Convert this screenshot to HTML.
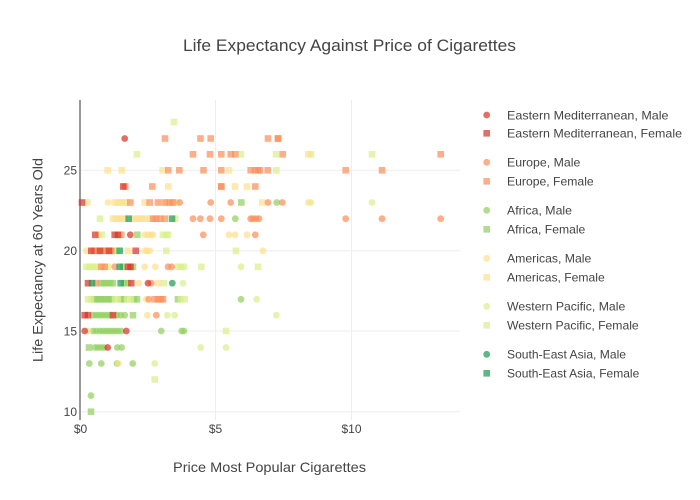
<!DOCTYPE html>
<html><head><meta charset="utf-8"><style>
html,body{margin:0;padding:0;background:#fff}
svg{display:block}
text{font-family:"Liberation Sans",sans-serif;fill:#444}
.E{fill:#d73027;fill-opacity:.7}
.U{fill:#fc8d59;fill-opacity:.7}
.M{fill:#fee08b;fill-opacity:.7}
.W{fill:#d9ef8b;fill-opacity:.7}
.A{fill:#91cf60;fill-opacity:.7}
.S{fill:#1a9850;fill-opacity:.7}
</style></head><body>
<svg width="700" height="500" viewBox="0 0 700 500" xmlns="http://www.w3.org/2000/svg">
<defs>
<rect id="q" x="-3.3" y="-3.3" width="6.6" height="6.6"/>
<circle id="o" cx="0" cy="0" r="3.4"/>
</defs>
<rect width="700" height="500" fill="#fff"/>
<!-- grid -->
<g stroke="#eee" stroke-width="1">
<line x1="80" x2="460" y1="170.3" y2="170.3"/>
<line x1="80" x2="460" y1="250.8" y2="250.8"/>
<line x1="80" x2="460" y1="331" y2="331"/>
<line x1="80" x2="460" y1="411.7" y2="411.7"/>
<line x1="215.5" x2="215.5" y1="100" y2="420"/>
<line x1="351.5" x2="351.5" y1="100" y2="420"/>
</g>
<line x1="80" x2="80" y1="100" y2="420" stroke="#999" stroke-width="2"/>

<!-- Africa -->
<g class="A">
<use href="#o" x="276.7" y="202.5"/><use href="#o" x="235.3" y="218.7"/><use href="#o" x="241" y="299.3"/>
<use href="#o" x="93" y="315.2"/><use href="#o" x="96" y="315.2"/><use href="#o" x="99" y="315.2"/><use href="#o" x="102" y="315.2"/><use href="#o" x="105" y="315.2"/><use href="#o" x="108" y="315.2"/><use href="#o" x="111" y="315.2"/><use href="#o" x="117" y="315.2"/><use href="#o" x="120.7" y="315.2"/><use href="#o" x="124.7" y="315.2"/>
<use href="#o" x="93" y="331"/><use href="#o" x="96.3" y="331"/><use href="#o" x="100" y="331"/><use href="#o" x="103" y="331"/><use href="#o" x="106" y="331"/><use href="#o" x="109" y="331"/><use href="#o" x="112" y="331"/><use href="#o" x="115" y="331"/><use href="#o" x="118" y="331"/><use href="#o" x="121.3" y="331"/><use href="#o" x="161.3" y="331"/><use href="#o" x="181.7" y="331"/><use href="#o" x="184" y="331"/>
<use href="#o" x="95" y="347.5"/><use href="#o" x="98" y="347.5"/><use href="#o" x="101" y="347.5"/><use href="#o" x="104" y="347.5"/><use href="#o" x="117.3" y="347.5"/><use href="#o" x="121.7" y="347.5"/>
<use href="#o" x="89.3" y="363.5"/><use href="#o" x="101.3" y="363.5"/><use href="#o" x="117" y="363.5"/><use href="#o" x="132.7" y="363.5"/>
<use href="#o" x="91" y="395.6"/>
<use href="#q" x="241.3" y="202.5"/><use href="#q" x="137.3" y="234.8"/><use href="#q" x="114" y="250.8"/>
<use href="#q" x="123" y="266.8"/><use href="#q" x="133" y="266.8"/>
<use href="#q" x="101.3" y="283.2"/><use href="#q" x="104" y="283.2"/><use href="#q" x="107" y="283.2"/><use href="#q" x="110" y="283.2"/><use href="#q" x="113" y="283.2"/><use href="#q" x="124" y="283.2"/><use href="#q" x="128" y="283.2"/>
<use href="#q" x="94" y="299.3"/><use href="#q" x="97" y="299.3"/><use href="#q" x="100" y="299.3"/><use href="#q" x="103" y="299.3"/><use href="#q" x="106" y="299.3"/><use href="#q" x="109" y="299.3"/><use href="#q" x="112" y="299.3"/><use href="#q" x="121" y="299.3"/><use href="#q" x="124" y="299.3"/><use href="#q" x="134" y="299.3"/><use href="#q" x="137" y="299.3"/><use href="#q" x="178" y="299.3"/>
<use href="#q" x="133" y="315.2"/><use href="#q" x="89" y="347.5"/><use href="#q" x="91" y="411.7"/>
</g>

<!-- Western Pacific -->
<g class="W">
<use href="#o" x="311" y="202.5"/><use href="#o" x="372" y="202.5"/><use href="#o" x="241" y="266.8"/><use href="#o" x="183" y="283.2"/><use href="#o" x="256.7" y="299.3"/><use href="#o" x="167.3" y="315.2"/><use href="#o" x="174.7" y="315.2"/><use href="#o" x="276.3" y="315.2"/><use href="#o" x="200.7" y="347.5"/><use href="#o" x="226" y="347.5"/><use href="#o" x="154.7" y="363.5"/>
<use href="#q" x="174" y="122"/>
<use href="#q" x="137" y="154.3"/><use href="#q" x="241" y="154.3"/><use href="#q" x="276" y="154.3"/><use href="#q" x="311" y="154.3"/><use href="#q" x="372" y="154.3"/>
<use href="#q" x="276.3" y="170.3"/><use href="#q" x="176" y="202.5"/>
<use href="#q" x="100" y="218.7"/><use href="#q" x="175.3" y="218.7"/>
<use href="#q" x="102" y="234.8"/><use href="#q" x="163" y="234.8"/><use href="#q" x="166" y="234.8"/><use href="#q" x="168" y="234.8"/>
<use href="#q" x="117" y="250.8"/><use href="#q" x="166.3" y="250.8"/><use href="#q" x="236" y="250.8"/>
<use href="#q" x="86.3" y="266.8"/><use href="#q" x="89" y="266.8"/><use href="#q" x="92" y="266.8"/><use href="#q" x="95" y="266.8"/><use href="#q" x="98" y="266.8"/><use href="#q" x="108" y="266.8"/><use href="#q" x="178" y="266.8"/><use href="#q" x="181" y="266.8"/><use href="#q" x="184" y="266.8"/><use href="#q" x="201.3" y="266.8"/><use href="#q" x="258" y="266.8"/>
<use href="#q" x="164" y="283.2"/>
<use href="#q" x="88" y="299.3"/><use href="#q" x="91" y="299.3"/><use href="#q" x="115" y="299.3"/><use href="#q" x="118" y="299.3"/><use href="#q" x="127" y="299.3"/><use href="#q" x="131" y="299.3"/><use href="#q" x="181" y="299.3"/><use href="#q" x="184.7" y="299.3"/>
<use href="#q" x="226" y="331"/><use href="#q" x="154.7" y="379.5"/>
</g>

<!-- Americas -->
<g class="M">
<use href="#o" x="108" y="202.5"/><use href="#o" x="308.3" y="202.5"/>
<use href="#o" x="144.7" y="234.8"/><use href="#o" x="148" y="234.8"/><use href="#o" x="151" y="234.8"/><use href="#o" x="153" y="234.8"/><use href="#o" x="229" y="234.8"/><use href="#o" x="235" y="234.8"/><use href="#o" x="247" y="234.8"/>
<use href="#o" x="86.3" y="250.8"/><use href="#o" x="144.7" y="250.8"/><use href="#o" x="147" y="250.8"/><use href="#o" x="149.7" y="250.8"/><use href="#o" x="263" y="250.8"/>
<use href="#o" x="144.7" y="266.8"/><use href="#o" x="155.3" y="266.8"/><use href="#o" x="138.7" y="283.2"/><use href="#o" x="146" y="299.3"/><use href="#o" x="147.3" y="315.2"/><use href="#o" x="88" y="331"/><use href="#o" x="118.3" y="363.5"/>
<use href="#q" x="308.3" y="154.3"/>
<use href="#q" x="107.7" y="170.3"/><use href="#q" x="121.7" y="170.3"/><use href="#q" x="162.7" y="170.3"/><use href="#q" x="229" y="170.3"/>
<use href="#q" x="168.3" y="186.5"/><use href="#q" x="235" y="186.5"/><use href="#q" x="247" y="186.5"/>
<use href="#q" x="87.3" y="202.5"/><use href="#q" x="114.7" y="202.5"/><use href="#q" x="118" y="202.5"/><use href="#q" x="121" y="202.5"/><use href="#q" x="124" y="202.5"/><use href="#q" x="126.3" y="202.5"/><use href="#q" x="144.7" y="202.5"/><use href="#q" x="167" y="202.5"/><use href="#q" x="262.3" y="202.5"/>
<use href="#q" x="113" y="218.7"/><use href="#q" x="116" y="218.7"/><use href="#q" x="119" y="218.7"/><use href="#q" x="122" y="218.7"/><use href="#q" x="124.7" y="218.7"/><use href="#q" x="133" y="218.7"/><use href="#q" x="136" y="218.7"/><use href="#q" x="139" y="218.7"/><use href="#q" x="142" y="218.7"/><use href="#q" x="145" y="218.7"/><use href="#q" x="149.7" y="218.7"/>
<use href="#q" x="98.7" y="234.8"/><use href="#q" x="128" y="250.8"/><use href="#q" x="158" y="283.2"/>
</g>

<!-- Europe -->
<g class="U">
<use href="#o" x="179.7" y="202.5"/><use href="#o" x="210.7" y="202.5"/><use href="#o" x="230.7" y="202.5"/><use href="#o" x="268" y="202.5"/><use href="#o" x="282.3" y="202.5"/>
<use href="#o" x="193" y="218.7"/><use href="#o" x="200.3" y="218.7"/><use href="#o" x="210" y="218.7"/><use href="#o" x="221.3" y="218.7"/><use href="#o" x="250.7" y="218.7"/><use href="#o" x="253" y="218.7"/><use href="#o" x="256" y="218.7"/><use href="#o" x="259" y="218.7"/><use href="#o" x="345.7" y="218.7"/><use href="#o" x="382" y="218.7"/><use href="#o" x="440.7" y="218.7"/>
<use href="#o" x="203.3" y="234.8"/><use href="#o" x="255.3" y="234.8"/>
<use href="#o" x="114.7" y="266.8"/><use href="#o" x="168" y="266.8"/><use href="#o" x="171.7" y="266.8"/>
<use href="#o" x="151.3" y="283.2"/><use href="#o" x="148.7" y="299.3"/><use href="#o" x="156.3" y="315.2"/>
<use href="#q" x="165" y="138.5"/><use href="#q" x="200.5" y="138.5"/><use href="#q" x="210.7" y="138.5"/><use href="#q" x="268" y="138.5"/><use href="#q" x="278" y="138.5"/><use href="#q" x="278" y="138.5"/>
<use href="#q" x="193" y="154.3"/><use href="#q" x="210" y="154.3"/><use href="#q" x="221.3" y="154.3"/><use href="#q" x="230.7" y="154.3"/><use href="#q" x="235.3" y="154.3"/><use href="#q" x="282.7" y="154.3"/><use href="#q" x="440.7" y="154.3"/>
<use href="#q" x="168.3" y="170.3"/><use href="#q" x="179.3" y="170.3"/><use href="#q" x="203.5" y="170.3"/><use href="#q" x="221.3" y="170.3"/><use href="#q" x="250.7" y="170.3"/><use href="#q" x="255" y="170.3"/><use href="#q" x="258" y="170.3"/><use href="#q" x="260" y="170.3"/><use href="#q" x="267.7" y="170.3"/><use href="#q" x="345.7" y="170.3"/><use href="#q" x="382" y="170.3"/>
<use href="#q" x="125.3" y="186.5"/><use href="#q" x="152.3" y="186.5"/><use href="#q" x="221.3" y="186.5"/><use href="#q" x="221.3" y="186.5"/><use href="#q" x="255.3" y="186.5"/>
<use href="#q" x="130.3" y="202.5"/><use href="#q" x="149.7" y="202.5"/><use href="#q" x="158" y="202.5"/><use href="#q" x="164.7" y="202.5"/><use href="#q" x="170" y="202.5"/><use href="#q" x="173" y="202.5"/>
<use href="#q" x="153" y="218.7"/><use href="#q" x="156" y="218.7"/><use href="#q" x="160" y="218.7"/><use href="#q" x="164.7" y="218.7"/>
<use href="#q" x="121.3" y="234.8"/>
<use href="#q" x="94" y="250.8"/><use href="#q" x="97" y="250.8"/><use href="#q" x="103" y="250.8"/><use href="#q" x="106" y="250.8"/><use href="#q" x="111.3" y="250.8"/>
<use href="#q" x="101.3" y="266.8"/><use href="#q" x="104.7" y="266.8"/><use href="#q" x="96" y="283.2"/>
<use href="#q" x="154.7" y="299.3"/><use href="#q" x="158" y="299.3"/><use href="#q" x="161" y="299.3"/><use href="#q" x="163" y="299.3"/>
</g>

<!-- Eastern Mediterranean -->
<g class="E">
<use href="#o" x="124.7" y="138.5"/><use href="#o" x="130.3" y="234.8"/><use href="#o" x="148" y="283.2"/><use href="#o" x="84.7" y="331"/><use href="#o" x="126.3" y="331"/><use href="#o" x="107.7" y="347.5"/>
<use href="#q" x="123.3" y="186.5"/><use href="#q" x="82" y="202.5"/><use href="#q" x="95.3" y="234.8"/><use href="#q" x="114.7" y="234.8"/><use href="#q" x="118" y="234.8"/>
<use href="#q" x="91.3" y="250.8"/><use href="#q" x="100" y="250.8"/><use href="#q" x="109" y="250.8"/><use href="#q" x="135.7" y="250.8"/>
<use href="#q" x="128" y="266.8"/><use href="#q" x="130.5" y="266.8"/><use href="#q" x="88" y="283.2"/><use href="#q" x="131.3" y="283.2"/>
<use href="#q" x="84.7" y="315.2"/><use href="#q" x="88" y="315.2"/><use href="#q" x="113" y="315.2"/>
</g>

<!-- South-East Asia -->
<g class="S">
<use href="#o" x="172.3" y="283.2"/>
<use href="#q" x="128.7" y="218.7"/><use href="#q" x="172" y="218.7"/><use href="#q" x="119.7" y="250.8"/><use href="#q" x="119.7" y="266.8"/><use href="#q" x="92" y="283.2"/><use href="#q" x="120.7" y="283.2"/>
</g>

<!-- tick labels -->
<g font-size="12" text-anchor="end">
<text x="77" y="174.5">25</text>
<text x="77" y="255">20</text>
<text x="77" y="335.3">15</text>
<text x="77" y="416">10</text>
</g>
<g font-size="12" text-anchor="middle">
<text x="80.5" y="433">$0</text>
<text x="215.5" y="433">$5</text>
<text x="351.5" y="433">$10</text>
</g>

<!-- titles -->
<text x="349.5" y="51" font-size="17" text-anchor="middle" textLength="333" lengthAdjust="spacingAndGlyphs">Life Expectancy Against Price of Cigarettes</text>
<text x="269.5" y="472" font-size="14" text-anchor="middle" textLength="193" lengthAdjust="spacingAndGlyphs">Price Most Popular Cigarettes</text>
<text transform="translate(42.5,260) rotate(-90)" font-size="14" text-anchor="middle" textLength="204" lengthAdjust="spacingAndGlyphs">Life Expectancy at 60 Years Old</text>

<!-- legend -->
<g>
<use href="#o" class="E" x="486.7" y="115"/><use href="#q" class="E" x="486.7" y="133.3"/>
<use href="#o" class="U" x="486.7" y="162.3"/><use href="#q" class="U" x="486.7" y="181.3"/>
<use href="#o" class="A" x="486.7" y="210.3"/><use href="#q" class="A" x="486.7" y="229.3"/>
<use href="#o" class="M" x="486.7" y="258.3"/><use href="#q" class="M" x="486.7" y="277.3"/>
<use href="#o" class="W" x="486.7" y="306.3"/><use href="#q" class="W" x="486.7" y="325.3"/>
<use href="#o" class="S" x="486.7" y="354.3"/><use href="#q" class="S" x="486.7" y="373.3"/>
</g>
<g font-size="12">
<text x="507" y="119.3" textLength="161.5" lengthAdjust="spacingAndGlyphs">Eastern Mediterranean, Male</text>
<text x="507" y="137.6" textLength="175" lengthAdjust="spacingAndGlyphs">Eastern Mediterranean, Female</text>
<text x="507" y="166.6" textLength="73.3" lengthAdjust="spacingAndGlyphs">Europe, Male</text>
<text x="507" y="185.6" textLength="86.7" lengthAdjust="spacingAndGlyphs">Europe, Female</text>
<text x="507" y="214.6" textLength="65" lengthAdjust="spacingAndGlyphs">Africa, Male</text>
<text x="507" y="233.6" textLength="78.3" lengthAdjust="spacingAndGlyphs">Africa, Female</text>
<text x="507" y="262.6" textLength="84.3" lengthAdjust="spacingAndGlyphs">Americas, Male</text>
<text x="507" y="281.6" textLength="97.7" lengthAdjust="spacingAndGlyphs">Americas, Female</text>
<text x="507" y="310.6" textLength="118.3" lengthAdjust="spacingAndGlyphs">Western Pacific, Male</text>
<text x="507" y="329.6" textLength="131.7" lengthAdjust="spacingAndGlyphs">Western Pacific, Female</text>
<text x="507" y="358.6" textLength="119" lengthAdjust="spacingAndGlyphs">South-East Asia, Male</text>
<text x="507" y="377.6" textLength="132.3" lengthAdjust="spacingAndGlyphs">South-East Asia, Female</text>
</g>
</svg>
</body></html>
